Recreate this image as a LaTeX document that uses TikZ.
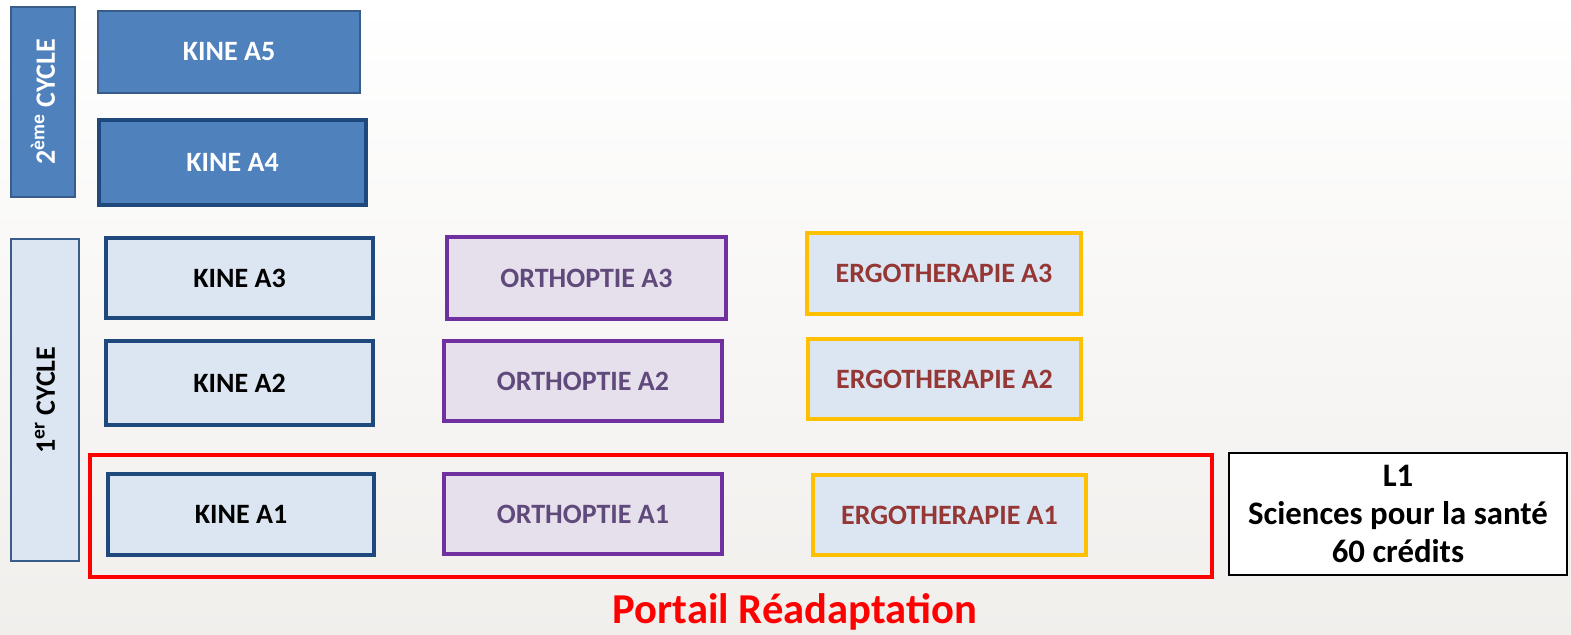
\documentclass[tikz,border=0pt]{standalone}
\usepackage{fontspec}
\setmainfont{Carlito}
\usetikzlibrary{positioning}

\definecolor{bleuA}{RGB}{79,129,189}
\definecolor{bleuB}{RGB}{56,93,138}
\definecolor{bleuF}{RGB}{31,73,125}
\definecolor{ciel}{RGB}{220,230,242}
\definecolor{violet}{RGB}{112,48,160}
\definecolor{lilas}{RGB}{230,224,236}
\definecolor{violetT}{RGB}{96,74,123}
\definecolor{orange}{RGB}{255,192,0}
\definecolor{brique}{RGB}{149,55,53}
\definecolor{fond}{RGB}{241,239,236}

\tikzset{
  boite/.style={rectangle, font=\fontsize{14}{17}\selectfont\bfseries, inner sep=0pt},
  kine/.style={boite, draw=bleuF, line width=2pt, fill=ciel, text=black},
  kinefonce/.style={boite, draw=bleuB, line width=0.6pt, fill=bleuA, text=white},
  ortho/.style={boite, draw=violet, line width=2pt, fill=lilas, text=violetT},
  ergo/.style={boite, draw=orange, line width=2pt, fill=ciel, text=brique},
  cycle/.style={boite, rotate=90, line width=0.6pt, draw=bleuB}
}

\begin{document}
\begin{tikzpicture}[x=0.5pt, y=-0.5pt]
% fond
\useasboundingbox (0,0) rectangle (1571,635);
\fill[top color=white, bottom color=fond] (0,0) rectangle (1571,635);
% cycles
\node[cycle, fill=bleuA, text=white, minimum width=95pt, minimum height=32pt] (cycle2) at (43,102) {2\textsuperscript{ème} CYCLE};
\node[cycle, fill=ciel, text=black, minimum width=161pt, minimum height=34pt] (cycle1) at (45,400) {1\textsuperscript{er} CYCLE};
% portail
\node[rectangle, draw=red, line width=2pt, minimum width=561pt, minimum height=61pt] (portail) at (651,516) {};
% kine
\node[kinefonce, minimum width=131pt, minimum height=41pt] (kineA5) at (229,52) {KINE A5};
\node[kinefonce, draw=bleuF, line width=2pt, minimum width=133.5pt, minimum height=42.5pt] (kineA4) at (232.5,162.5) {KINE A4};
\node[kine, minimum width=133.5pt, minimum height=40pt] (kineA3) at (239.5,278) {KINE A3};
\node[kine, minimum width=133.5pt, minimum height=42pt] (kineA2) at (239.5,383) {KINE A2};
\node[kine, minimum width=133pt, minimum height=40.5pt] (kineA1) at (241,514.5) {KINE A1};
% orthoptie
\node[ortho, minimum width=139.5pt, minimum height=41pt] (orthoA3) at (586.5,278) {ORTHOPTIE A3};
\node[ortho, minimum width=139pt, minimum height=40pt] (orthoA2) at (583,381) {ORTHOPTIE A2};
\node[ortho, minimum width=139pt, minimum height=40pt] (orthoA1) at (583,514) {ORTHOPTIE A1};
% ergotherapie
\node[ergo, minimum width=137pt, minimum height=40.5pt] (ergoA3) at (944,273.5) {ERGOTHERAPIE A3};
\node[ergo, minimum width=136.5pt, minimum height=40pt] (ergoA2) at (944.5,379) {ERGOTHERAPIE A2};
\node[ergo, minimum width=136.5pt, minimum height=40pt] (ergoA1) at (949.5,515) {ERGOTHERAPIE A1};
% L1
\node[boite, draw=black, line width=0.6pt, fill=white, align=center, font=\fontsize{16.4}{19}\selectfont\bfseries, minimum width=169pt, minimum height=61pt] (licence) at (1398,514) {L1\\Sciences pour la santé\\60 crédits};
% titre
\node[font=\fontsize{21.3}{25}\selectfont\bfseries, text=red] (titre) at (795,612) {Portail Réadaptation};
\end{tikzpicture}
\end{document}
